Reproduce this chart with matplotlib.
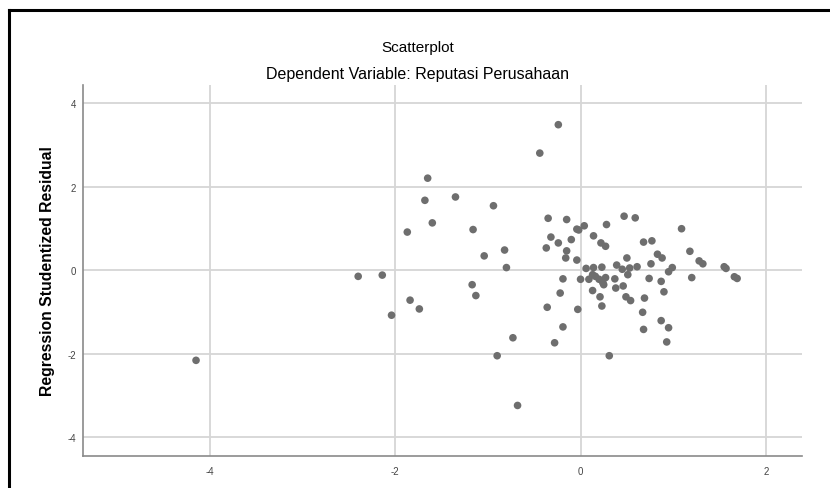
import matplotlib.pyplot as plt
from matplotlib.lines import Line2D

# SPSS style residual scatterplot
# x values (standardized predicted) and y values (studentized residual)
pred = [-4.15, -2.40, -2.14, -2.04, -1.87, -1.84, -1.74, -1.65, -1.68, -1.60,
        -1.35, -1.16, -1.17, -1.13, -1.04, -0.94, -0.90, -0.82, -0.80, -0.73,
        -0.68, -0.44, -0.24, -0.35, -0.32, -0.37, -0.36, -0.28, -0.24, -0.22,
        -0.19, -0.19, -0.16, -0.15, -0.15, -0.10, -0.04, -0.02, -0.04, -0.03,
        0.00, 0.04, 0.06, 0.09, 0.13, 0.14, 0.14, 0.13, 0.16, 0.20,
        0.21, 0.22, 0.23, 0.23, 0.24, 0.25, 0.27, 0.27, 0.28, 0.31,
        0.37, 0.38, 0.39, 0.45, 0.46, 0.47, 0.49, 0.50, 0.51, 0.53,
        0.54, 0.59, 0.61, 0.67, 0.68, 0.68, 0.69, 0.74, 0.76, 0.77,
        0.83, 0.87, 0.87, 0.88, 0.90, 0.93, 0.95, 0.95, 0.99, 1.09,
        1.18, 1.20, 1.28, 1.32, 1.55, 1.57, 1.66, 1.69]
resid = [-2.16, -0.15, -0.12, -1.08, 0.91, -0.72, -0.93, 2.20, 1.67, 1.13,
         1.75, 0.97, -0.35, -0.61, 0.34, 1.54, -2.05, 0.48, 0.06, -1.62,
         -3.24, 2.80, 3.48, 1.24, 0.79, 0.53, -0.89, -1.74, 0.65, -0.55,
         -0.21, -1.36, 0.29, 1.21, 0.46, 0.73, 0.98, 0.96, 0.24, -0.94,
         -0.22, 1.06, 0.04, -0.22, -0.11, 0.82, 0.06, -0.49, -0.15, -0.22,
         -0.64, 0.65, 0.07, -0.86, -0.30, -0.35, 0.57, -0.18, 1.09, -2.05,
         -0.21, -0.43, 0.12, 0.02, -0.38, 1.29, -0.64, 0.29, -0.11, 0.05,
         -0.73, 1.25, 0.08, -1.01, 0.67, -1.42, -0.67, -0.20, 0.15, 0.70,
         0.38, -0.27, -1.21, 0.29, -0.52, -1.72, -0.04, -1.38, 0.06, 0.99,
         0.45, -0.18, 0.22, 0.15, 0.08, 0.04, -0.16, -0.20]

xticks = [-4, -2, 0, 2]
yticks = [-4, -2, 0, 2, 4]

plt.rcParams['font.family'] = ['Liberation Sans', 'DejaVu Sans']
plt.rcParams['axes.unicode_minus'] = False

fig = plt.figure(figsize=(8.3, 4.89), dpi=100)
ax = fig.add_axes([83/830, 32/489, 719/830, 371/489])

ax.scatter(pred, resid, s=30, color='#6e6e6e', edgecolors='none', zorder=3)

ax.set_xlim(-5.37, 2.39)
ax.set_ylim(-4.45, 4.43)
ax.set_xticks(xticks)
ax.set_yticks(yticks)
ax.grid(True, color='#d6d6d6', linewidth=1.3)
ax.set_axisbelow(True)
ax.tick_params(length=0, labelsize=7, labelcolor='#444444')
ax.tick_params(axis='x', pad=7)
ax.tick_params(axis='y', pad=5)
for side in ['top', 'right']:
    ax.spines[side].set_visible(False)
for side in ['left', 'bottom']:
    ax.spines[side].set_color('#8a8a8a')
    ax.spines[side].set_linewidth(1.2)

ax.set_ylabel('Regression Studentized Residual', fontsize=11.3, fontweight='bold', labelpad=9)

fig.text(0.503, 1 - 48/489, 'Scatterplot', ha='center', va='center', fontsize=11)
fig.text(0.503, 1 - 75/489, 'Dependent Variable: Reputasi Perusahaan', ha='center', va='center', fontsize=11.5)

# black frame around the chart (cut at right and bottom)
fig.add_artist(Line2D([9/830, 9/830], [0, 1 - 11/489], color='black', linewidth=2.2, transform=fig.transFigure))
fig.add_artist(Line2D([9/830, 1], [1 - 11/489, 1 - 11/489], color='black', linewidth=2.2, transform=fig.transFigure))

fig.savefig('out.png', dpi=100)
